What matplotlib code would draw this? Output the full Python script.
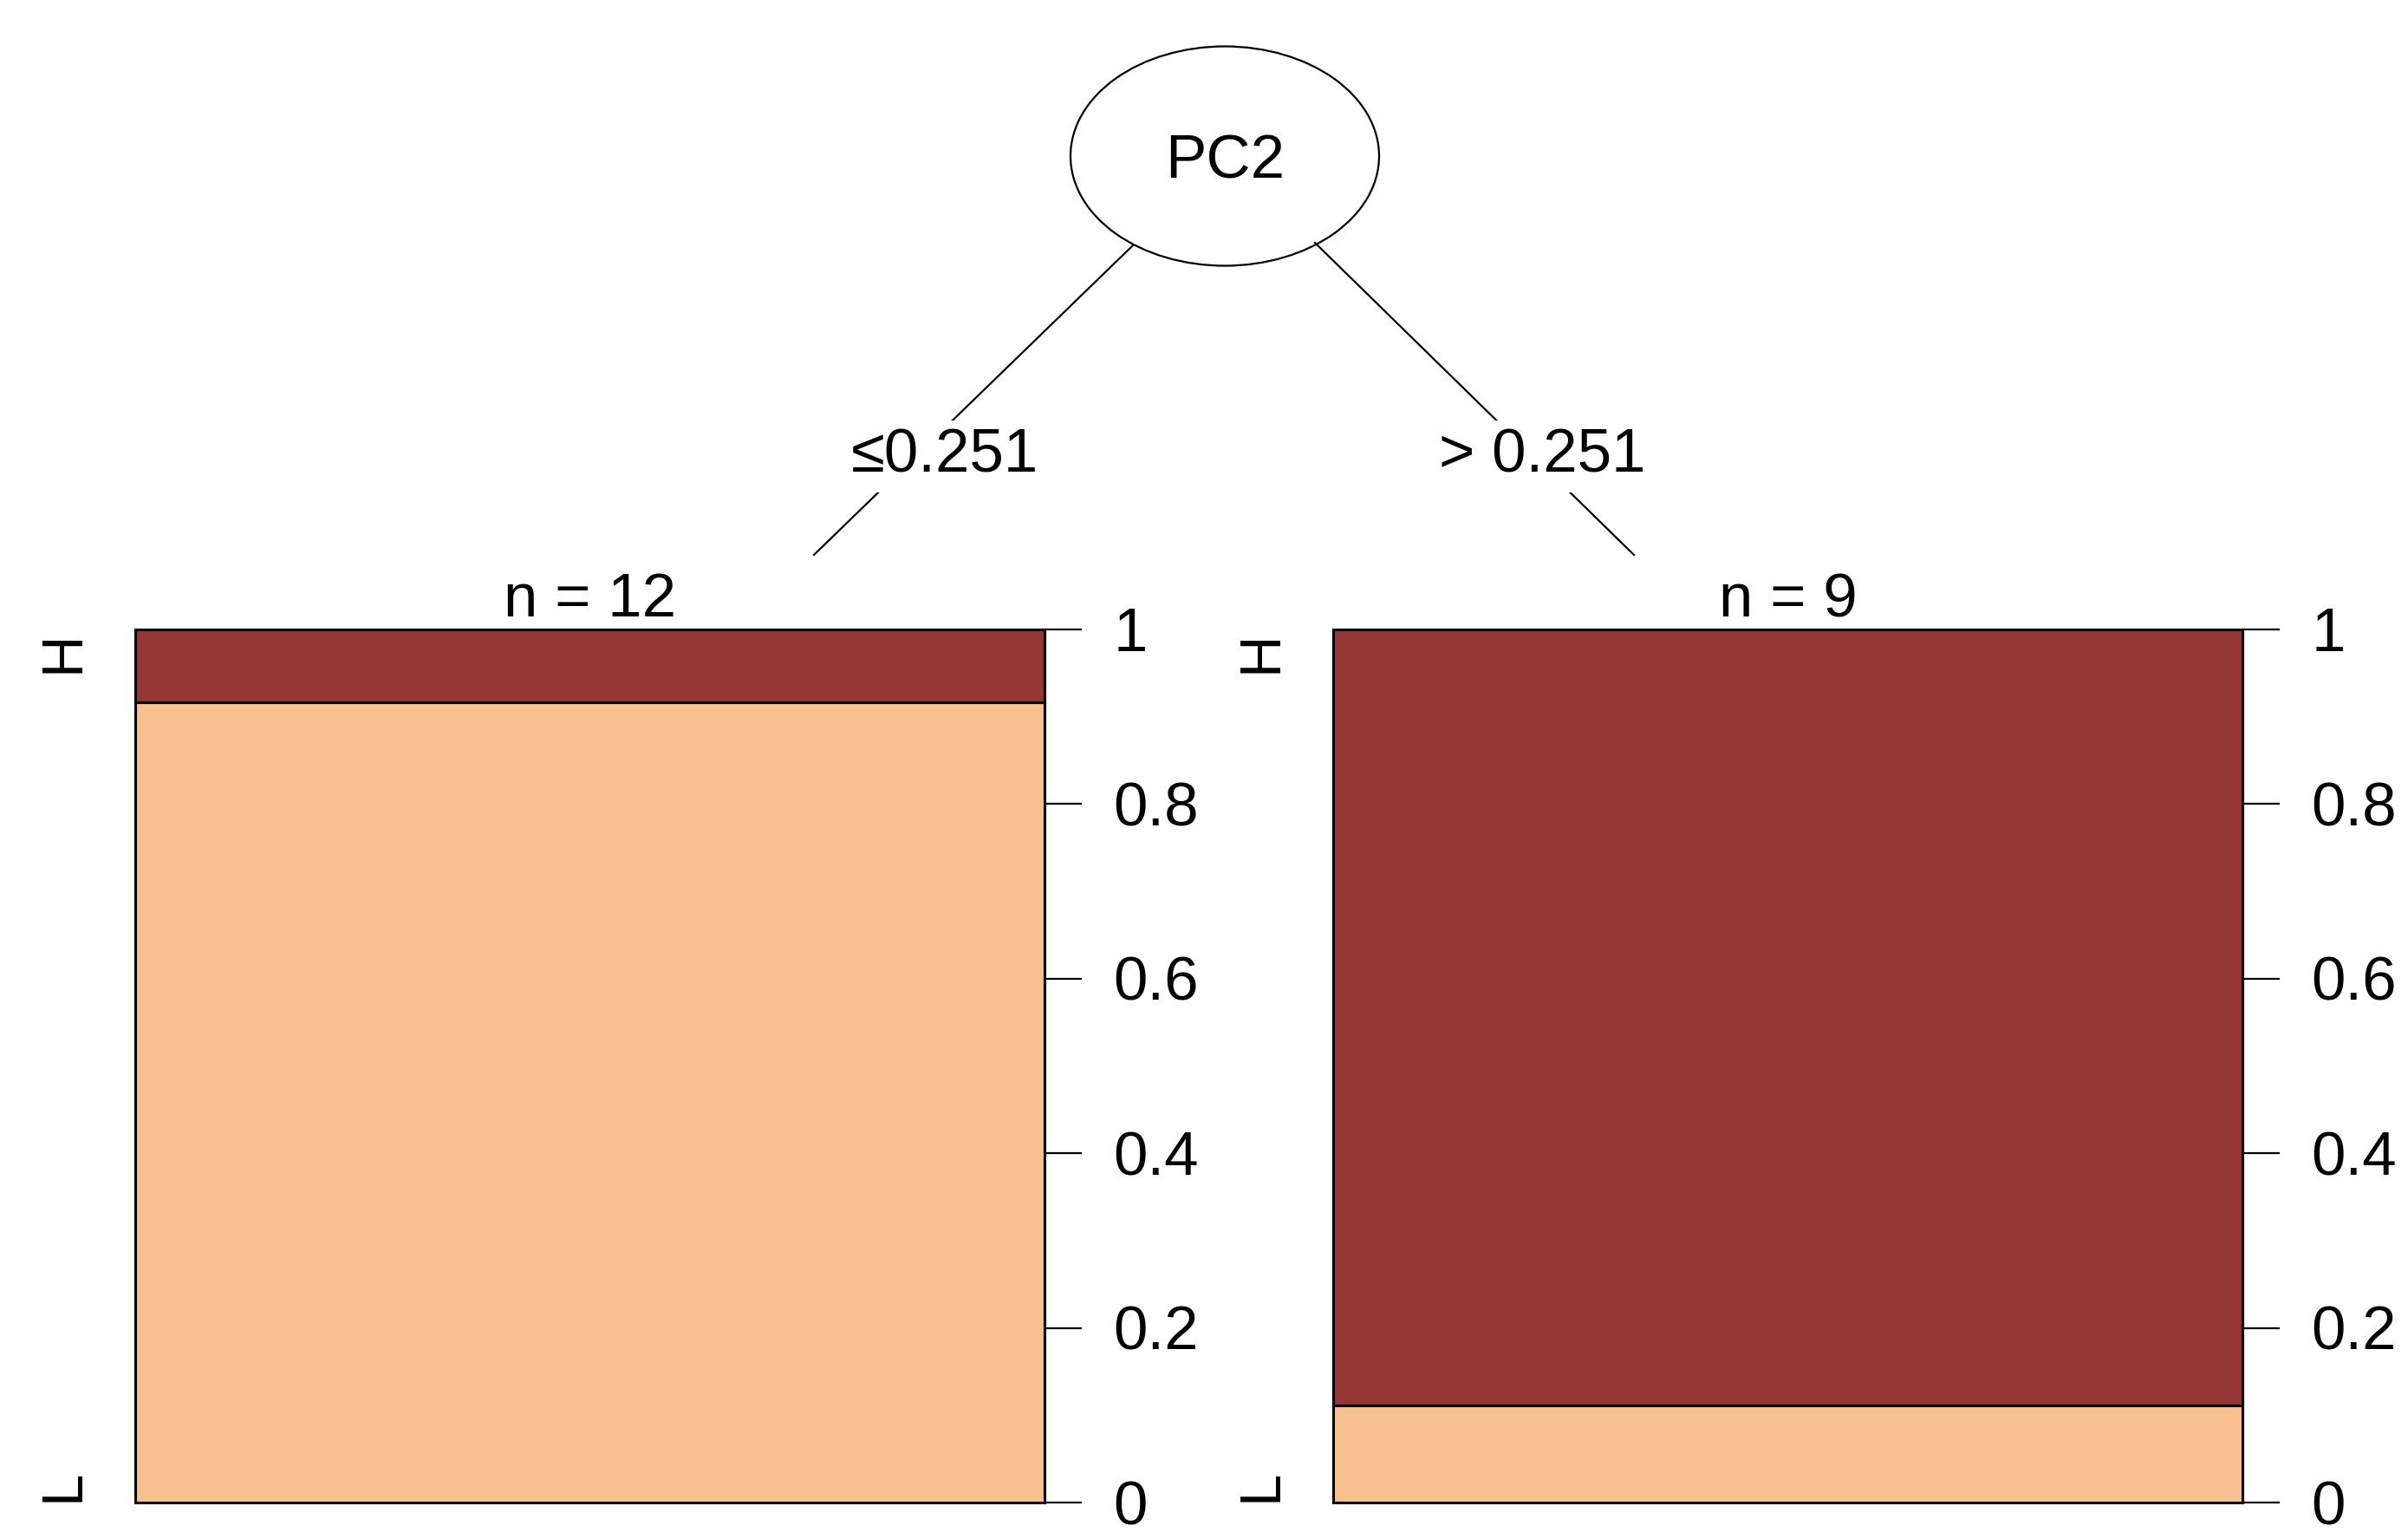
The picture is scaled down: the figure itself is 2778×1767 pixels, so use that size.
import matplotlib
matplotlib.use("Agg")
import matplotlib.pyplot as plt
from matplotlib.patches import Ellipse
from matplotlib.transforms import ScaledTranslation

# ---- data ----
split_var = "PC2"
split_labels = ["\u22640.251", "> 0.251"]
node_n = [12, 9]
classes = ["H", "L"]
counts_H = [1, 8]
counts_L = [11, 1]
yticks = [0, 0.2, 0.4, 0.6, 0.8, 1]
ytick_labels = ["0", "0.2", "0.4", "0.6", "0.8", "1"]

col_H = "#943634"
col_L = "#F9C08F"

W, H = 2778, 1767
DPI = 100
FONT = ["Liberation Sans", "DejaVu Sans"]
FS = 51
plt.rcParams["font.family"] = FONT

fig = plt.figure(figsize=(W / DPI, H / DPI), dpi=DPI)

# tree layer in pixel coordinates
tree = fig.add_axes([0, 0, 1, 1])
tree.set_xlim(0, W)
tree.set_ylim(H, 0)
tree.axis("off")

# root node
tree.add_patch(Ellipse((1413, 180), 356, 253, fill=False, edgecolor="black", lw=1.6))
tree.text(1413, 188, split_var, ha="center", va="center", fontsize=FS)

# edges
edges = [((1307, 283), (939, 640), (1090, 526)),
         ((1517, 280), (1885, 640), (1779, 526))]
for (p0, p1, lab), txt in zip(edges, split_labels):
    tree.plot([p0[0], p1[0]], [p0[1], p1[1]], color="black", lw=1.6, zorder=1)
    tree.text(lab[0], lab[1], txt, ha="center", va="center", fontsize=FS, zorder=3,
              bbox=dict(facecolor="white", edgecolor="none", pad=6))

# terminal panels
panels = [(156, 1205), (1538, 2587)]
top, bot = 726, 1733
for i, (x0, x1) in enumerate(panels):
    ax = fig.add_axes([x0 / W, 1 - bot / H, (x1 - x0) / W, (bot - top) / H])
    n = node_n[i]
    pL = counts_L[i] / n
    pH = counts_H[i] / n
    ax.bar([0], [pL], width=1, align="edge", color=col_L, edgecolor="black",
           lw=2.2, clip_on=False)
    ax.bar([0], [pH], bottom=[pL], width=1, align="edge", color=col_H,
           edgecolor="black", lw=2.2, clip_on=False)
    ax.set_xlim(0, 1)
    ax.set_ylim(0, 1)
    for s in ["left", "top", "bottom"]:
        ax.spines[s].set_visible(False)
    ax.spines["right"].set_linewidth(2.2)
    ax.set_xticks([])
    ax.yaxis.tick_right()
    ax.set_yticks(yticks)
    ax.set_yticklabels(ytick_labels, fontsize=FS)
    ax.tick_params(axis="y", length=31, width=1.6, pad=26)
    shift = ScaledTranslation(0, -7 / DPI, fig.dpi_scale_trans)
    for lab in ax.get_yticklabels():
        lab.set_verticalalignment("center")
        lab.set_transform(lab.get_transform() + shift)
    ax.patch.set_alpha(0)
    # node size label
    ax.text(0.5, 1.0, f"n = {n}", transform=ax.transAxes, ha="center",
            va="bottom", fontsize=FS)
    # class labels rotated
    xoff = -52 / (x1 - x0)
    ax.text(xoff, 0.974, classes[0], transform=ax.transAxes,
            rotation=90, ha="right", va="center", fontsize=FS * 0.95)
    ax.text(xoff, 0.02, classes[1], transform=ax.transAxes,
            rotation=90, ha="right", va="center", fontsize=FS * 0.95)

fig.savefig("out.png", dpi=DPI)
